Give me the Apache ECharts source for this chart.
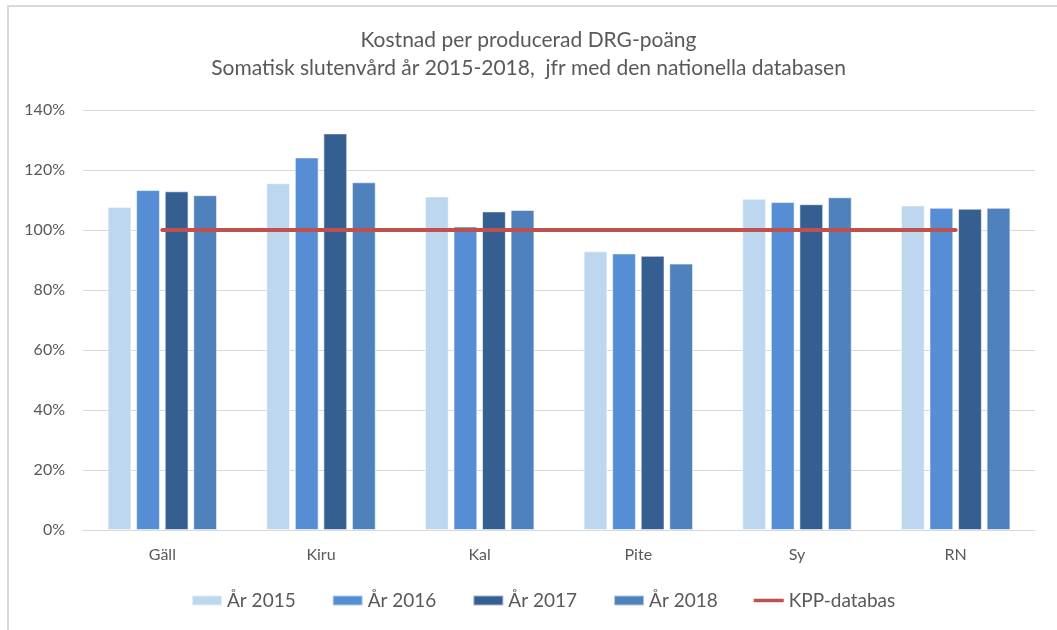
<!DOCTYPE html>
<html>
<head>
<meta charset="utf-8">
<script src="https://cdn.jsdelivr.net/npm/echarts@6/dist/echarts.min.js"></script>
<style>
  html, body { margin: 0; padding: 0; background: #fff; }
  #chart { width: 1057px; height: 630px; }
</style>
</head>
<body>
<div id="chart"></div>
<script>
// Enheter (kategorier)
const categories = ['Gäll', 'Kiru', 'Kal', 'Pite', 'Sy', 'RN'];

// Kostnad per DRG-poäng i procent av nationella databasen
const years = ['År 2015', 'År 2016', 'År 2017', 'År 2018'];
const values2015 = [107.7, 115.6, 111.2, 92.9, 110.4, 108.2];
const values2016 = [113.3, 124.2, 101.2, 92.2, 109.3, 107.4];
const values2017 = [112.9, 132.2, 106.2, 91.4, 108.6, 107.1];
const values2018 = [111.6, 115.9, 106.7, 88.8, 110.9, 107.4];

// Referensnivå (KPP-databas = 100 %)
const referenceName = 'KPP-databas';
const referenceValues = [100, 100, 100, 100, 100, 100];

// Y-axelns skala
const yMin = 0, yMax = 140, yStep = 20;

const barColors = ['#bdd7ee', '#558ed5', '#365f91', '#4f81bd'];
const lineColor = '#c0504d';
const seriesValues = [values2015, values2016, values2017, values2018];
const fontFamily = 'Lato, "Open Sans", sans-serif';
const textColor = '#595959';

const chart = echarts.init(document.getElementById('chart'), null, { renderer: 'canvas' });

const barSeries = years.map((name, i) => ({
  name: name,
  type: 'bar',
  data: seriesValues[i],
  barGap: '20%',
  barCategoryGap: '31%',
  itemStyle: {
    color: barColors[i],
    borderColor: 'rgba(255,255,255,0.55)',
    borderWidth: 1
  },
  emphasis: { disabled: true }
}));

chart.setOption({
  animation: false,
  backgroundColor: '#fff',
  textStyle: { fontFamily: fontFamily },
  title: {
    text: 'Kostnad per producerad DRG-poäng\nSomatisk slutenvård år 2015-2018,  jfr med den nationella databasen',
    left: 'center',
    top: 21,
    textStyle: {
      fontFamily: fontFamily,
      fontWeight: 'normal',
      fontSize: 21,
      lineHeight: 28,
      color: textColor
    }
  },
  graphic: [
    { type: 'line', shape: { x1: 7, y1: 6, x2: 1057, y2: 6 }, style: { stroke: '#d9d9d9', lineWidth: 2 }, silent: true },
    { type: 'line', shape: { x1: 8, y1: 5, x2: 8, y2: 630 }, style: { stroke: '#d9d9d9', lineWidth: 2 }, silent: true }
  ],
  legend: {
    bottom: 15,
    left: 186,
    itemWidth: 30,
    itemHeight: 10,
    itemGap: 36,
    textStyle: { fontFamily: fontFamily, fontSize: 19, color: textColor },
    data: [
      { name: years[0], icon: 'rect' },
      { name: years[1], icon: 'rect' },
      { name: years[2], icon: 'rect' },
      { name: years[3], icon: 'rect' },
      { name: referenceName, icon: 'path://M0,0 L34,0 L34,4 L0,4 Z', itemStyle: { color: lineColor } }
    ]
  },
  grid: { left: 83, right: 22, top: 110, bottom: 100, containLabel: false },
  xAxis: {
    type: 'category',
    data: categories,
    axisLine: { lineStyle: { color: '#d9d9d9', width: 1 } },
    axisTick: { show: false },
    axisLabel: { color: textColor, fontSize: 16, margin: 17, fontFamily: fontFamily }
  },
  yAxis: {
    type: 'value',
    min: yMin,
    max: yMax,
    interval: yStep,
    axisLine: { show: false },
    axisTick: { show: false },
    axisLabel: { color: textColor, fontSize: 16, margin: 18, fontFamily: fontFamily, formatter: '{value}%' },
    splitLine: { lineStyle: { color: '#d9d9d9', width: 1 } }
  },
  series: barSeries.concat([{
    name: referenceName,
    type: 'line',
    data: referenceValues,
    symbol: 'none',
    lineStyle: { color: lineColor, width: 4, cap: 'round' },
    itemStyle: { color: lineColor },
    z: 5,
    emphasis: { disabled: true }
  }])
});
</script>
</body>
</html>
